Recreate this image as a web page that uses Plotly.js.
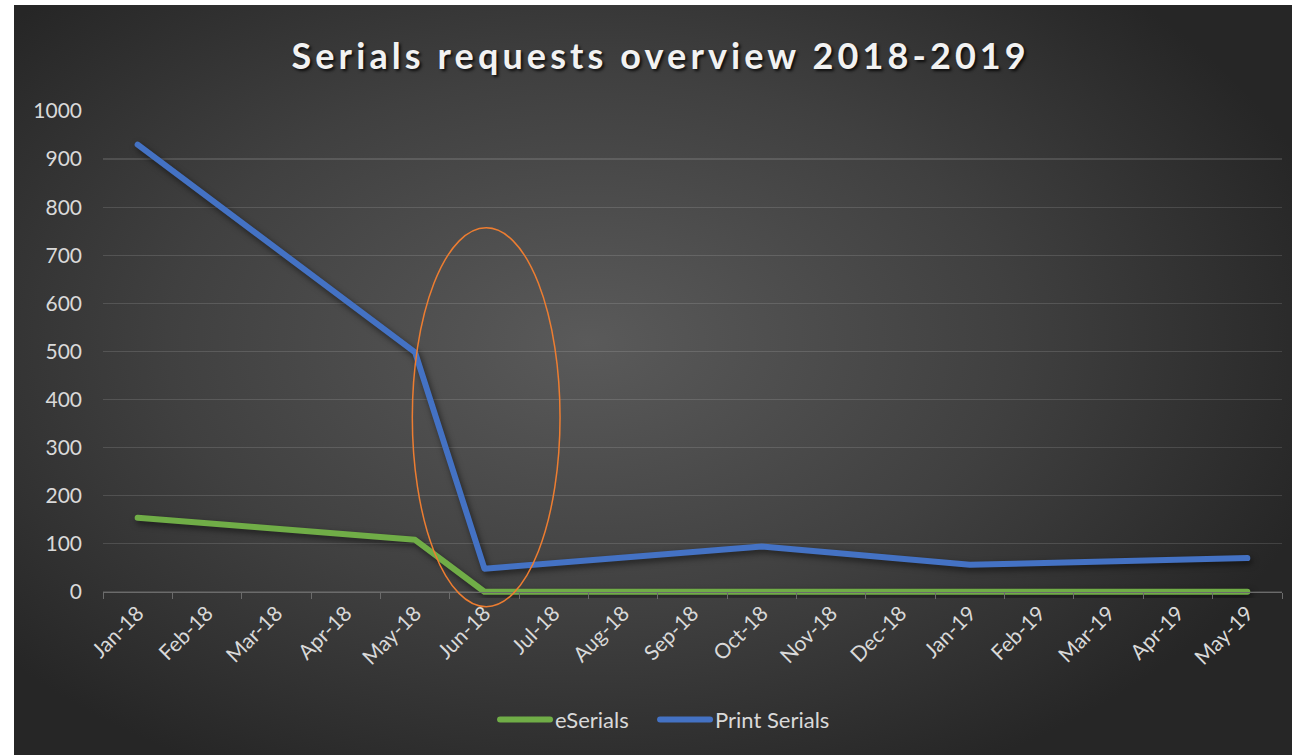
<!DOCTYPE html>
<html>
<head>
<meta charset="utf-8">
<script src="https://cdn.plot.ly/plotly-3.0.1.min.js"></script>
<style>
  html, body { margin: 0; padding: 0; background: #ffffff; width: 1292px; height: 755px; overflow: hidden; }
  #chart {
    position: absolute; left: 14px; top: 5px; width: 1278px; height: 750px;
    background: radial-gradient(ellipse 60% 65% at 45% 45%, #5a5a5a 0%, #404040 55%, #262626 100%);
  }
  .gtitle { letter-spacing: 4.1px; }
  .scatterlayer path.js-line { stroke-linecap: round; stroke-linejoin: round; filter: drop-shadow(2px 3px 3px rgba(0,0,0,0.55)); }
  .legendlines path { stroke-linecap: round; }
</style>
</head>
<body>
<div id="chart"></div>
<script>
// Tick labels (monthly categories on the x axis)
const months = ["Jan-18","Feb-18","Mar-18","Apr-18","May-18","Jun-18","Jul-18","Aug-18","Sep-18",
                "Oct-18","Nov-18","Dec-18","Jan-19","Feb-19","Mar-19","Apr-19","May-19"];
// Months that carry data points
const dataMonths = ["Jan-18","May-18","Jun-18","Oct-18","Jan-19","May-19"];
// Series values
const eSerials = [154, 108, 0, 0, 0, 0];
const printSerials = [930, 498, 48, 94, 56, 70];

const fontFam = "Lato, 'Open Sans', sans-serif";
const yMin = -13, yMax = 1000;
const frac = v => (v - yMin) / (yMax - yMin);

const traces = [
  { x: dataMonths, y: eSerials, name: "eSerials", type: "scatter", mode: "lines",
    line: { color: "#70ad47", width: 6 }, legend: "legend", hoverinfo: "x+y+name" },
  { x: dataMonths, y: printSerials, name: "Print Serials", type: "scatter", mode: "lines",
    line: { color: "#4472c4", width: 6 }, legend: "legend2", hoverinfo: "x+y+name" }
];

const legendBase = {
  orientation: "h", xanchor: "left", xref: "container",
  y: 0.047, yanchor: "middle", yref: "container",
  font: { family: fontFam, size: 22, color: "#d9d9d9" },
  bgcolor: "rgba(0,0,0,0)", itemwidth: 50
};

const layout = {
  width: 1278, height: 750,
  paper_bgcolor: "rgba(0,0,0,0)",
  plot_bgcolor: "rgba(0,0,0,0)",
  margin: { l: 89, r: 10, t: 106, b: 157 },
  font: { family: fontFam, color: "#d9d9d9", size: 21 },
  title: {
    text: "<b>Serials requests overview 2018-2019</b>",
    font: { family: fontFam, size: 36, color: "#f2f2f2", shadow: "2px 2px 3px rgba(0,0,0,0.8)" },
    x: 0.506, xanchor: "center", xref: "container",
    y: 0.932, yanchor: "middle", yref: "container"
  },
  xaxis: {
    type: "category", categoryorder: "array", categoryarray: months,
    tickvals: months, ticktext: months,
    range: [-0.5, months.length - 0.5],
    anchor: "free", position: frac(0),
    tickangle: -45, tickson: "boundaries",
    ticks: "outside", ticklen: 6, tickcolor: "#6b6b6b", tickwidth: 1,
    showline: true, linecolor: "#6b6b6b", linewidth: 1,
    showgrid: false, zeroline: false,
    tickfont: { family: fontFam, size: 21, color: "#d9d9d9" },
    fixedrange: true
  },
  yaxis: {
    range: [yMin, yMax], dtick: 100, tick0: 0,
    showgrid: true, gridcolor: "rgba(255,255,255,0.13)", gridwidth: 1.2,
    zeroline: false, showline: false, ticks: "",
    ticklabelstandoff: 20,
    tickfont: { family: fontFam, size: 21, color: "#d9d9d9" },
    fixedrange: true
  },
  legend: Object.assign({}, legendBase, { x: 0.3764 }),
  legend2: Object.assign({}, legendBase, { x: 0.5016 }),
  shapes: [{
    type: "circle", xref: "x", yref: "paper",
    x0: 3.96, x1: 6.09, y0: frac(-31), y1: frac(757),
    line: { color: "#ed7d31", width: 1.5 }, fillcolor: "rgba(0,0,0,0)", layer: "above"
  }],
  showlegend: true
};

Plotly.newPlot("chart", traces, layout, { displayModeBar: false, staticPlot: true });
</script>
</body>
</html>
